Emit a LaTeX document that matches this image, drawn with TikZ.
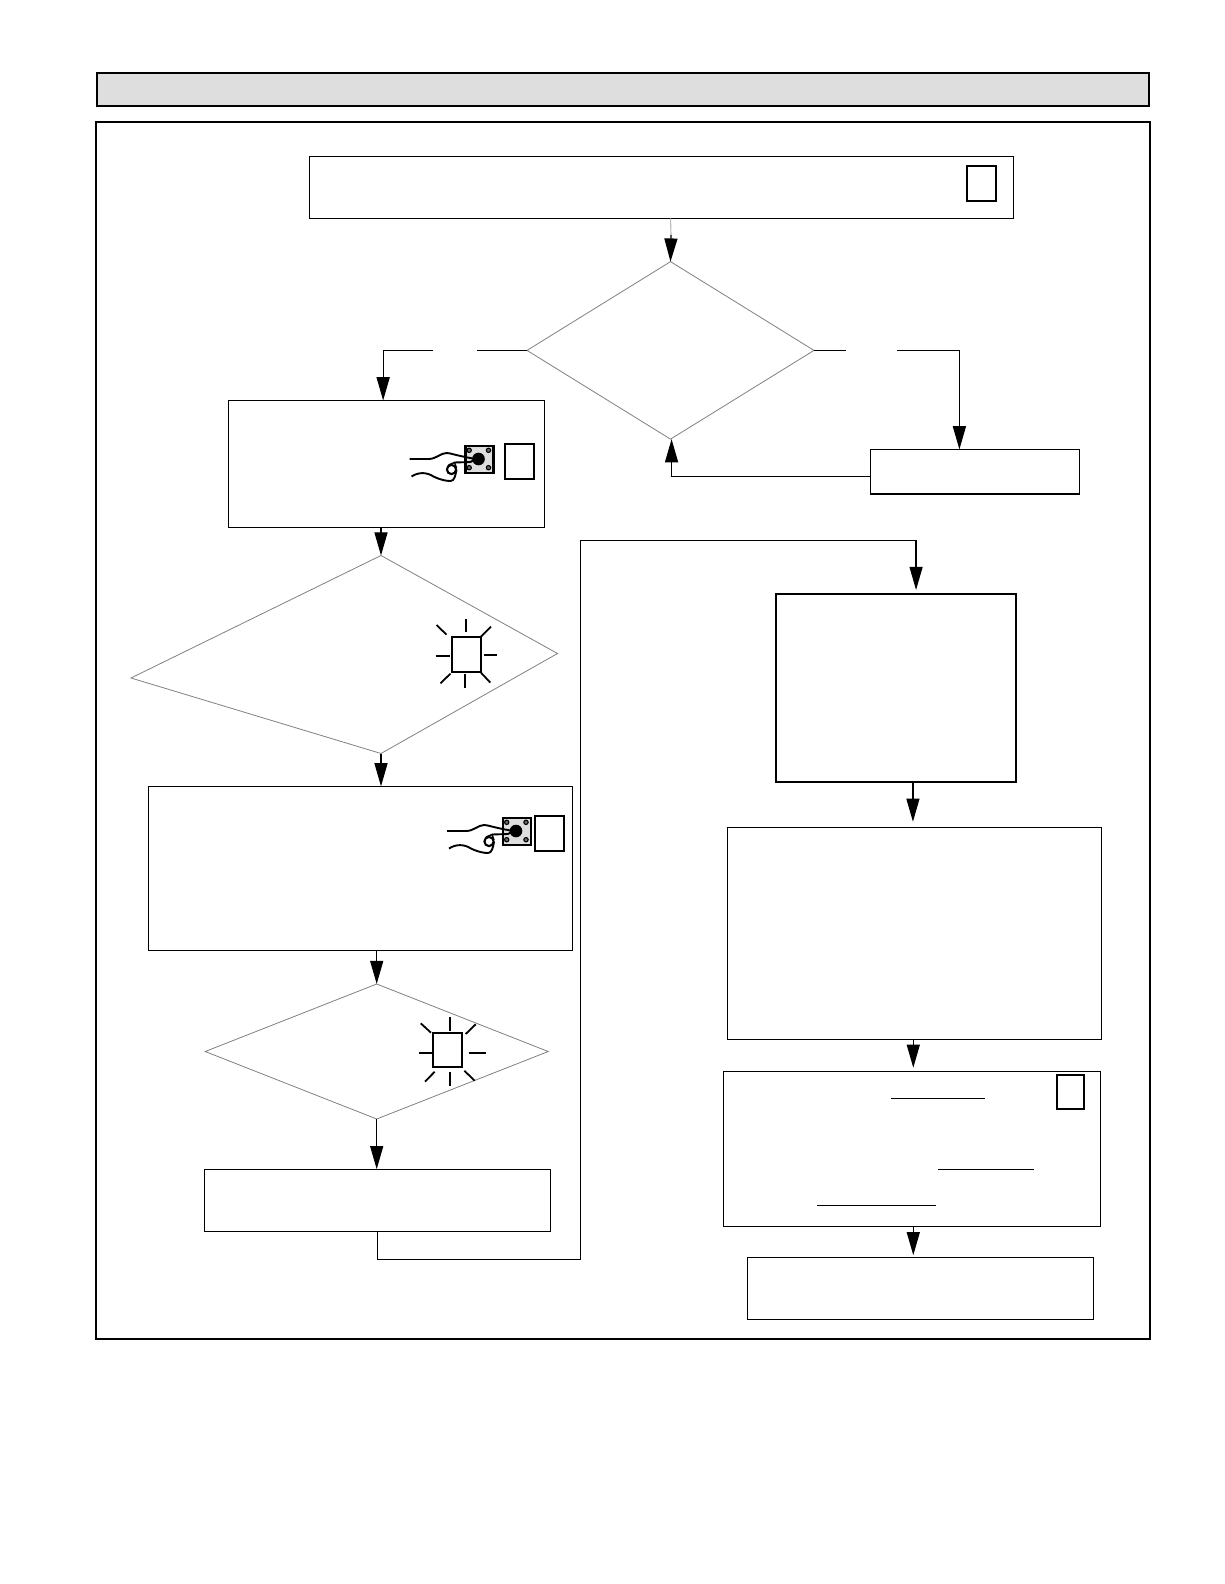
\documentclass[tikz,border=0pt]{standalone}
\usepackage{amsmath}
\usepackage{tikz}
\usetikzlibrary{arrows.meta, shapes.geometric}

\tikzset{
    handbutton/.pic={
        \draw[line width=1pt, fill=black!13] (-13,-13) rectangle (15,14);
        \fill (0,0) circle (6.3);
        \foreach \dotx/\doty in {-9.3/-8.7, 10/-8.7, -9.3/8.7, 10/8.7}
            \draw[fill=black!60, line width=0.5pt] (\dotx,\doty) circle (2.2);
        \draw[line width=0.9pt] (-69,0) -- (-50,0) .. controls (-42,0) and (-38,-6) .. (-32,-6) .. controls (-28,-6) and (-25,-4) .. (-3,0) -- (-8,3) -- (-24,3.5);
        \draw[line width=1pt] (-27,10.5) circle (4.6);
        \draw[line width=0.7pt] (-30,6) -- (-24,3.5) -- (-22,9);
        \draw[line width=0.9pt] (-67,17.5) .. controls (-60,13) and (-52,13) .. (-45,17.5) .. controls (-38,21) and (-32,22) .. (-28,22) .. controls (-24,22) and (-23,16) .. (-22,11);
    }
}

\begin{document}
\begin{tikzpicture}[x=0.016667cm, y=-0.016667cm, >={Triangle[length=11pt, width=6.2pt]}]
    \tikzset{boxsize/.style 2 args={minimum width=#1*0.016667cm, minimum height=#2*0.016667cm}}
    \tikzstyle{every node}=[inner sep=0pt, outer sep=0pt]
    \tikzstyle{stage}=[draw, line width=0.5pt]
    \tikzstyle{heavy}=[draw, line width=1pt]
    \tikzstyle{tag}=[draw, line width=0.85pt, fill=white, boxsize={29}{35}]
    \tikzstyle{decision}=[draw=black!50, line width=0.38pt, diamond]
    \tikzstyle{link}=[line width=0.55pt]
    \useasboundingbox (0,0) rectangle (1224,1584);

    \node[heavy, fill=black!13, boxsize={1052}{33}] (header) at (623,89.5) {};
    \node[heavy, line width=.85pt, boxsize={1054}{1217}] (frame) at (623,730.7) {};

    \node[stage, boxsize={704}{62}] (boxA) at (661.3,187.5) {};
    \node[tag] (tagA) at (981.5,183.3) {};
    \node[decision, boxsize={287}{177.5}] (decA) at (670.5,350.4) {};
    \coordinate (fadeA) at (671,235);
    \draw[link, black!25] (boxA.south -| decA.north) -- (fadeA);
    \draw[->, link] (fadeA) -- (decA.north);

    \node[stage, boxsize={316.5}{127.5}] (boxB) at (386.3,464.2) {};
    \node[tag] (tagB) at (519.5,461.5) {};
    \pic at (478.5,459) {handbutton};
    \coordinate (gapLa) at (477,350.4);
    \coordinate (gapLb) at (433,350.4);
    \draw[link] (decA.west) -- (gapLa);
    \draw[->, link] (gapLb) -| ([xshift=-1.5pt]boxB.north);

    \node[stage, boxsize={209}{44.6}] (boxR) at (975,471.7) {};
    \coordinate (gapRa) at (846,350.4);
    \coordinate (gapRb) at (897,350.4);
    \draw[link] (decA.east) -- (gapRa);
    \draw[->, link] (gapRb) -| ([xshift=-7.4pt]boxR.north);
    \draw[->, link] ([yshift=-2.3pt]boxR.west) -| ([xshift=.5pt]decA.south);

    \coordinate (decBn) at (381,555.5);
    \coordinate (decBe) at (557.5,653.5);
    \coordinate (decBs) at (381,753.5);
    \coordinate (decBw) at (131,678);
    \draw[draw=black!50, line width=0.38pt] (decBn) -- (decBe) -- (decBs) -- (decBw) -- cycle;
    \draw[->, link] (decBn |- boxB.south) -- (decBn);

    \node[draw, line width=1pt, boxsize={29}{35}] (lampA) at (466.3,654.3) {};
    \foreach \xa/\ya/\xb/\yb in {466.2/619/466.2/632, 465.1/673.6/465.1/687.7, 435.5/655.8/450/655.8, 483.5/654.8/497/654.8, 436.5/625/446.5/634.6, 481.2/636.3/491/626.6, 440.5/683.3/450.5/673.6, 480.9/672.6/490.3/682.6}
        \draw[line width=0.85pt] (\xa,\ya) -- (\xb,\yb);

    \node[stage, boxsize={424}{164}] (boxC) at (360.5,868.3) {};
    \node[tag] (tagC) at (549.5,833.6) {};
    \pic at (516,831) {handbutton};
    \draw[->, link] (decBs) -- (decBs |- boxC.north);

    \node[decision, boxsize={343}{135}] (decC) at (376.7,1051.5) {};
    \draw[->, link] (decC.north |- boxC.south) -- (decC.north);

    \node[draw, line width=1pt, boxsize={29}{34}] (lampB) at (447.8,1050) {};
    \foreach \xa/\ya/\xb/\yb in {450/1017/450/1030.7, 450/1071.7/450/1085.7, 419.3/1053/433.3/1053, 468.7/1052.7/486/1052.7, 420.7/1023.3/431/1032.7, 465.7/1034/475.7/1024.3, 425/1081.7/434.7/1071.7, 464.3/1070.7/474.7/1080.7}
        \draw[line width=0.85pt] (\xa,\ya) -- (\xb,\yb);

    \node[stage, boxsize={346}{62}] (boxD) at (377.2,1200.2) {};
    \draw[->, link] (decC.south) -- (decC.south |- boxD.north);

    \node[draw, line width=0.85pt, boxsize={240.4}{187.9}] (boxE) at (895.8,687.7) {};
    \coordinate (turnA) at (580.7,1259.6);
    \coordinate (turnB) at (580.7,540.3);
    \draw[->, link, shorten >=1.8pt] (boxD.south) |- (turnA) -- (turnB) -| ([xshift=9.6pt]boxE.north);

    \node[stage, boxsize={374.7}{212}] (boxF) at (914.4,933.2) {};
    \draw[->, link, shorten >=2.6pt] ([xshift=-.7pt]boxF.north |- boxE.south) -- ([xshift=-.7pt]boxF.north);

    \node[stage, boxsize={377}{155}] (boxG) at (911.8,1148.8) {};
    \node[tag, boxsize={27.6}{34.6}] (tagG) at (1070.5,1092) {};
    \draw[->, link, shorten >=1.7pt] ([xshift=.7pt]boxG.north |- boxF.south) -- ([xshift=.7pt]boxG.north);
    \coordinate (ruleAa) at (891,1098.3);
    \coordinate (ruleAb) at (985,1098.3);
    \coordinate (ruleBa) at (938,1169.3);
    \coordinate (ruleBb) at (1034,1169.3);
    \coordinate (ruleCa) at (817,1205.2);
    \coordinate (ruleCb) at (936,1205.2);
    \draw[link] (ruleAa) -- (ruleAb);
    \draw[link] (ruleBa) -- (ruleBb);
    \draw[link] (ruleCa) -- (ruleCb);

    \node[stage, boxsize={346}{62}] (boxH) at (920.3,1288.3) {};
    \draw[->, link, shorten >=1pt] ([xshift=.7pt]boxG.south) -- ([xshift=.7pt]boxG.south |- boxH.north);
\end{tikzpicture}
\end{document}
